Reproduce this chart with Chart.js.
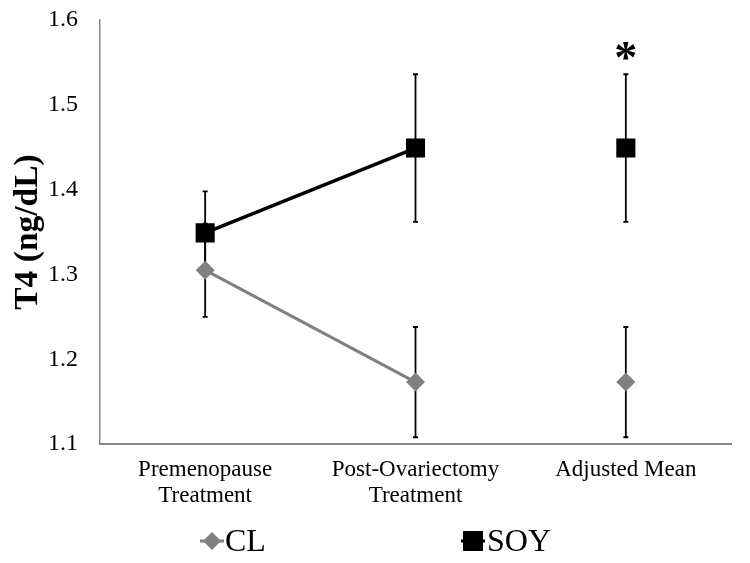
<!DOCTYPE html>
<html>
<head>
  <title>T4 chart</title>
  <style>
    body { margin: 0; padding: 0; background: #fff; }
    #wrap { width: 750px; height: 563px; }
  </style>
</head>
<body>
  <div id="wrap"><canvas id="chart" width="750" height="563"></canvas></div>

  <script src="https://cdn.jsdelivr.net/npm/chart.js"></script>
  <script>
    const categories = [['Premenopause', 'Treatment'], ['Post-Ovariectomy', 'Treatment'], ['Adjusted Mean']];
    const clValues = [1.305, 1.173, 1.173];
    const clErrors = [0.055, 0.065, 0.065];
    const soyValues = [1.349, 1.449, 1.449];
    const soyErrors = [0.049, 0.087, 0.087];
    const yTicks = [1.1, 1.2, 1.3, 1.4, 1.5, 1.6];
    const significance = ['', '', '*'];

    const serif = '"Liberation Serif", "Times New Roman", serif';

    // error bars + the asterisk, drawn under the markers
    const errorBars = {
      id: 'errorBars',
      beforeDatasetsDraw(chart) {
        const { ctx, scales: { x, y } } = chart;
        ctx.save();
        ctx.strokeStyle = '#000';
        ctx.lineWidth = 1.8;
        [[clValues, clErrors], [soyValues, soyErrors]].forEach(([vals, errs]) => {
          vals.forEach((v, i) => {
            const px = x.getPixelForValue(i);
            const top = y.getPixelForValue(v + errs[i]);
            const bot = y.getPixelForValue(v - errs[i]);
            ctx.beginPath();
            ctx.moveTo(px, top); ctx.lineTo(px, bot);
            ctx.moveTo(px - 2.5, top); ctx.lineTo(px + 2.5, top);
            ctx.moveTo(px - 2.5, bot); ctx.lineTo(px + 2.5, bot);
            ctx.stroke();
          });
        });
        ctx.fillStyle = '#000';
        ctx.font = 'bold 46px ' + serif;
        ctx.textAlign = 'center';
        ctx.textBaseline = 'alphabetic';
        significance.forEach((s, i) => {
          if (!s) return;
          const px = x.getPixelForValue(i);
          const py = y.getPixelForValue(soyValues[i] + soyErrors[i]);
          ctx.fillText(s, px, py - 1);
        });
        ctx.restore();
      }
    };

    // Excel-like legend: line stub + marker + text
    const legendBox = {
      id: 'legendBox',
      afterDraw(chart) {
        const { ctx } = chart;
        const items = [
          { text: 'CL', color: '#808080', style: 'diamond', x: 212 },
          { text: 'SOY', color: '#000', style: 'square', x: 473 }
        ];
        const ly = 541;
        ctx.save();
        ctx.font = '32px ' + serif;
        ctx.textBaseline = 'middle';
        items.forEach(it => {
          ctx.strokeStyle = it.color;
          ctx.fillStyle = it.color;
          ctx.lineWidth = 3;
          ctx.beginPath();
          ctx.moveTo(it.x - 12, ly); ctx.lineTo(it.x + 12, ly);
          ctx.stroke();
          ctx.beginPath();
          if (it.style === 'diamond') {
            ctx.moveTo(it.x - 9, ly); ctx.lineTo(it.x, ly - 9);
            ctx.lineTo(it.x + 9, ly); ctx.lineTo(it.x, ly + 9);
            ctx.closePath();
          } else {
            ctx.rect(it.x - 10, ly - 10, 20, 20);
          }
          ctx.fill();
          ctx.fillStyle = '#000';
          ctx.fillText(it.text, it.x + (it.style === 'diamond' ? 13 : 14), ly + 2);
        });
        ctx.restore();
      }
    };

    const ctx = document.getElementById('chart').getContext('2d');
    new Chart(ctx, {
      type: 'line',
      data: {
        labels: categories,
        datasets: [
          {
            label: 'CL',
            data: clValues,
            borderColor: '#808080',
            backgroundColor: '#808080',
            borderWidth: 3,
            pointStyle: 'rectRot',
            pointRadius: 9.5,
            pointHoverRadius: 9.5,
            pointBorderWidth: 0,
            pointBackgroundColor: '#808080',
            tension: 0,
            segment: { borderColor: c => c.p0DataIndex === 1 ? 'transparent' : undefined }
          },
          {
            label: 'SOY',
            data: soyValues,
            borderColor: '#000',
            backgroundColor: '#000',
            borderWidth: 3.5,
            pointStyle: 'rect',
            pointRadius: 13.5,
            pointHoverRadius: 13.5,
            pointBorderWidth: 0,
            pointBackgroundColor: '#000',
            tension: 0,
            segment: { borderColor: c => c.p0DataIndex === 1 ? 'transparent' : undefined }
          }
        ]
      },
      options: {
        responsive: false,
        animation: false,
        layout: { padding: { left: 10, right: 19, top: 20, bottom: 41 } },
        plugins: {
          legend: { display: false },
          tooltip: { enabled: false }
        },
        scales: {
          x: {
            offset: true,
            grid: { display: false, drawTicks: false },
            border: { display: true, color: '#878787', width: 2 },
            ticks: {
              color: '#000',
              padding: 13,
              maxRotation: 0,
              autoSkip: false,
              font: { family: serif, size: 23, lineHeight: 1.13 }
            }
          },
          y: {
            min: 1.1,
            max: 1.6,
            afterBuildTicks: s => { s.ticks = yTicks.map(v => ({ value: v })); },
            afterFit: s => { s.width = 90; s.paddingTop = 0; s.paddingBottom = 0; },
            grid: { display: false, drawTicks: false },
            border: { display: true, color: '#878787', width: 1.5 },
            ticks: {
              color: '#000',
              padding: 22,
              font: { family: serif, size: 24 },
              callback: v => Number(v).toFixed(1)
            },
            title: {
              display: true,
              text: 'T4 (ng/dL)',
              color: '#000',
              padding: 0,
              font: { family: serif, size: 33.5, weight: 'bold', lineHeight: 1.1 }
            }
          }
        }
      },
      plugins: [errorBars, legendBox]
    });
  </script>
</body>
</html>
